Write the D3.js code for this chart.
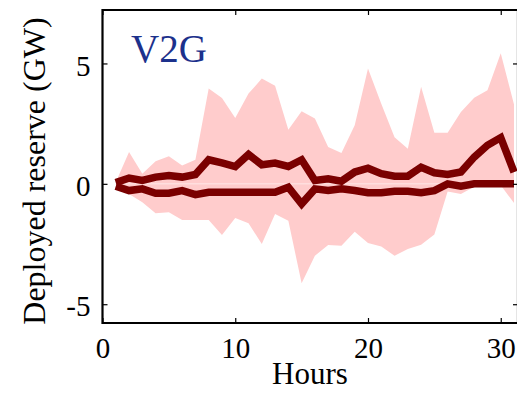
<!DOCTYPE html>
<html>
<head>
<meta charset="utf-8">
<script src="https://cdn.jsdelivr.net/npm/d3@7"></script>
<style>
  html, body { margin: 0; padding: 0; background: #fff; }
  svg { display: block; }
  text { font-family: "Liberation Serif", "Times New Roman", serif; }
</style>
</head>
<body>
<div id="chart"></div>
<script>
// Hourly deployed reserve (GW) for the V2G case
const hours = d3.range(1, 32);
const bandUpper = [0.07, 1.32, 0.42, 0.94, 1.15, 0.76, 1.0, 3.96, 3.57, 2.73,
                   3.75, 4.37, 4.07, 2.25, 3.01, 2.71, 1.53, 1.28, 2.43, 4.79,
                   3.33, 1.94, 1.46, 4.03, 2.12, 2.12, 2.98, 3.58, 3.89, 5.42, 3.3];
const bandLower = [-0.2, -0.42, -0.76, -1.22, -1.18, -1.5, -1.5, -1.5, -2.12, -1.42,
                   -1.64, -2.5, -1.25, -1.53, -4.13, -2.99, -2.54, -2.57, -1.99, -2.46,
                   -2.6, -2.99, -2.71, -2.53, -2.1, -0.32, -0.42, -0.12, -0.06, -0.06, -0.8];
const upReserve = [0.05, 0.24, 0.14, 0.28, 0.35, 0.28, 0.39, 1.0, 0.87, 0.72,
                   1.22, 0.79, 0.86, 0.72, 1.0, 0.14, 0.21, 0.11, 0.49, 0.65,
                   0.42, 0.32, 0.32, 0.69, 0.46, 0.39, 0.49, 1.11, 1.6, 1.92, 0.49];
const downReserve = [-0.1, -0.28, -0.21, -0.39, -0.39, -0.28, -0.45, -0.35, -0.35, -0.35,
                     -0.35, -0.35, -0.35, -0.14, -0.83, -0.21, -0.28, -0.21, -0.28, -0.37,
                     -0.37, -0.31, -0.31, -0.37, -0.28, 0.0, -0.1, 0.0, 0.0, 0.0, 0.0];
const xTicks = [0, 10, 20, 30];
const yTicks = [-5, 0, 5];

const W = 517, H = 408;
const mLeft = 102.5, mRight = 518, mTop = 10, mBottom = 323;

const svg = d3.select("#chart").append("svg")
  .attr("width", W).attr("height", H);

const x = d3.scaleLinear().domain([0, 31.3]).range([mLeft, mRight]);
const y = d3.scaleLinear().domain([-5.78, 7.22]).range([mBottom, mTop]);

svg.append("clipPath").attr("id", "plot-clip")
  .append("rect").attr("x", mLeft).attr("y", mTop)
  .attr("width", mRight - mLeft).attr("height", mBottom - mTop);

const plot = svg.append("g").attr("clip-path", "url(#plot-clip)");

// shaded range of deployed reserve
const band = d3.area()
  .x((d, i) => x(hours[i]))
  .y0((d, i) => y(bandLower[i]))
  .y1((d, i) => y(bandUpper[i]));
plot.append("path").datum(hours)
  .attr("d", band)
  .attr("fill", "#ffcccc");

// faint zero seam
plot.append("line")
  .attr("x1", x(hours[0])).attr("x2", x(hours[hours.length - 1]))
  .attr("y1", y(0)).attr("y2", y(0))
  .attr("stroke", "#fff").attr("stroke-width", 0.8).attr("opacity", 0.7);

const line = d3.line().x((d, i) => x(hours[i])).y(d => y(d));
[upReserve, downReserve].forEach(series => {
  plot.append("path").datum(series)
    .attr("d", line)
    .attr("fill", "none")
    .attr("stroke", "#7a0000")
    .attr("stroke-width", 7.5)
    .attr("stroke-linejoin", "miter")
    .attr("stroke-linecap", "butt");
});

// axes: ticks point inward on all four sides
const tickLen = 5;
const axB = svg.append("g").attr("transform", `translate(0,${mBottom})`)
  .call(d3.axisBottom(x).tickValues(xTicks).tickSizeInner(-tickLen).tickSizeOuter(0).tickPadding(14));
const axT = svg.append("g").attr("transform", `translate(0,${mTop})`)
  .call(d3.axisTop(x).tickValues(xTicks).tickSizeInner(-tickLen).tickSizeOuter(0).tickFormat(""));
const axL = svg.append("g").attr("transform", `translate(${mLeft},0)`)
  .call(d3.axisLeft(y).tickValues(yTicks).tickSizeInner(-tickLen).tickSizeOuter(0).tickPadding(12));
const axR = svg.append("g").attr("transform", `translate(${mRight},0)`)
  .call(d3.axisRight(y).tickValues(yTicks).tickSizeInner(-tickLen).tickSizeOuter(0).tickFormat(""));

[axB, axT, axL, axR].forEach(g => {
  g.select(".domain").remove();
  g.selectAll(".tick line").attr("stroke", "#000").attr("stroke-width", 1.2);
  g.selectAll("text").attr("font-family", "Liberation Serif, Times New Roman, serif")
    .attr("font-size", 29).attr("fill", "#000");
});
axB.selectAll("text").attr("dy", "0.71em");
axL.selectAll("text").attr("dy", "0.4em");
axL.selectAll("text").text(d => d < 0 ? "-" + Math.abs(d) : d);

// frame
svg.append("path")
  .attr("d", `M${mLeft},${mTop}H${mRight}V${mBottom}H${mLeft}Z`)
  .attr("fill", "none").attr("stroke", "#000").attr("stroke-width", 2.2);

// labels
svg.append("text")
  .attr("x", 310).attr("y", 384)
  .attr("text-anchor", "middle")
  .attr("font-size", 31)
  .text("Hours");

svg.append("text")
  .attr("transform", `translate(45,171) rotate(-90)`)
  .attr("text-anchor", "middle")
  .attr("font-size", 32)
  .text("Deployed reserve (GW)");

svg.append("text")
  .attr("x", 131).attr("y", 61.5)
  .attr("font-size", 39)
  .attr("fill", "#1c318c")
  .text("V2G");
</script>
</body>
</html>
